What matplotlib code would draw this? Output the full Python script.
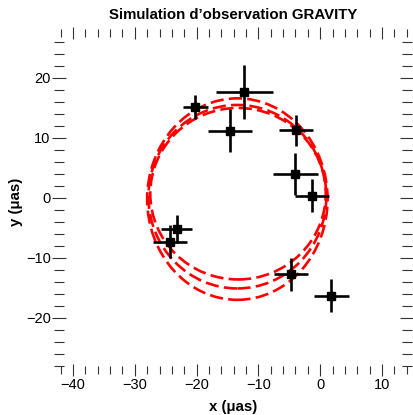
import matplotlib
matplotlib.use("Agg")
import matplotlib.pyplot as plt
from matplotlib.patches import Ellipse
from matplotlib.ticker import MultipleLocator

plt.rcParams['font.family'] = ['Liberation Sans', 'DejaVu Sans']

# Observed points (µas) with symmetric errors
x_obs = [-20.2, -12.25, -14.6, -3.9, -4.0, -1.35, -23.2, -24.3, -4.7, 1.8]
y_obs = [15.1, 17.6, 11.2, 11.3, 3.95, 0.4, -5.2, -7.3, -12.7, -16.3]
x_err = [2.0, 4.6, 3.6, 2.7, 3.6, 2.7, 2.5, 2.8, 2.8, 2.8]
y_err = [2.0, 4.5, 3.6, 2.6, 3.5, 2.7, 2.4, 2.7, 2.75, 2.75]

# Model orbit ellipses: centre x, centre y, full width, full height
orb_cx = [-13.4, -13.4, -13.3]
orb_cy = [-0.2, 0.2, 0.7]
orb_w = [29.2, 28.8, 28.4]
orb_h = [33.6, 30.6, 28.6]

fig = plt.figure(figsize=(4.13, 4.15), dpi=100)
ax = fig.add_axes([59/413, 1-370/415, (407-59)/413, (370-33)/415])

for cx, cy, w, h in zip(orb_cx, orb_cy, orb_w, orb_h):
    e = Ellipse((cx, cy), w, h, fill=False, edgecolor='red', linewidth=1.9,
                linestyle=(0, (5, 2)), zorder=2)
    ax.add_patch(e)

ax.errorbar(x_obs, y_obs, xerr=x_err, yerr=y_err, fmt='s', color='black',
            ecolor='black', elinewidth=1.9, capsize=0, markersize=5.5, zorder=3)

ax.set_xlim(-42.27, 14.05)
ax.set_ylim(-28.7, 27.5)

for s in ax.spines.values():
    s.set_visible(False)

ax.xaxis.set_major_locator(MultipleLocator(10))
ax.xaxis.set_minor_locator(MultipleLocator(2))
ax.yaxis.set_major_locator(MultipleLocator(10))
ax.yaxis.set_minor_locator(MultipleLocator(2))

ax.tick_params(axis='x', which='major', direction='inout', length=9, width=0.8,
               top=True, bottom=True, labelsize=10.5, pad=1, color='#333333')
ax.tick_params(axis='x', which='minor', direction='inout', length=5.5, width=0.8,
               top=True, bottom=True, color='#333333')
ax.tick_params(axis='y', which='major', direction='inout', length=10, width=0.8,
               left=True, right=True, labelsize=10.5, pad=1, color='#333333')
ax.tick_params(axis='y', which='minor', direction='inout', length=6.5, width=0.8,
               left=True, right=True, color='#333333')

ax.set_xticks([-40, -30, -20, -10, 0, 10])
ax.set_xticklabels(['\u221240', '\u221230', '\u221220', '\u221210', '0', '10'])
ax.set_yticks([-20, -10, 0, 10, 20])
ax.set_yticklabels(['\u221220', '\u221210', '0', '10', '20'])

ax.set_xlabel('x (\u03bcas)', fontsize=10.8, fontweight='bold', labelpad=6)
ax.set_ylabel('y (\u03bcas)', fontsize=10.8, fontweight='bold', labelpad=2)
ax.set_title('Simulation d\u2019observation GRAVITY', fontsize=10.8,
             fontweight='bold', pad=10)

fig.savefig('out.png', dpi=100)
